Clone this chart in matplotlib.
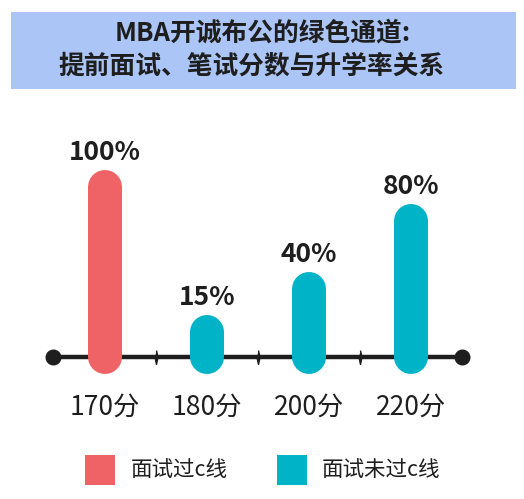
import matplotlib
matplotlib.use("Agg")
import matplotlib.pyplot as plt
from matplotlib.patches import Rectangle

plt.rcParams['font.family'] = ['Noto Sans CJK SC', 'DejaVu Sans']

# ---- data ----
categories = ["170分", "180分", "200分", "220分"]
values = [100, 15, 40, 80]
passed_c = [True, False, False, False]
value_labels = ["100%", "15%", "40%", "80%"]
title_lines = ["MBA开诚布公的绿色通道:", "提前面试、笔试分数与升学率关系"]
legend_labels = ["面试过c线", "面试未过c线"]

RED = "#EF6366"
TEAL = "#00B3C7"
BOX = "#ABC5F6"
DARK = "#1E1E1E"

W, H = 524, 499
fig = plt.figure(figsize=(W / 100, H / 100), dpi=100)
ax = fig.add_axes([0, 0, 1, 1])
ax.set_axis_off()

# pixel mapping: category spacing 102px, first at x=105; axis line at y=357 (from top)
step = 102.0
x0 = 105.0
ax.set_xlim((0 - x0) / step, (W - x0) / step)
k = 1.7  # px per percent
base = H - 357
ax.set_ylim(-base / k, (H - base) / k)

n = len(categories)
# baseline
ax.plot([-0.51, n - 0.5], [0, 0], color=DARK, lw=3.2, solid_capstyle='butt', zorder=1)
ax.plot([-0.51, n - 0.5], [0, 0], 'o', color=DARK, ms=10.5, zorder=3)
diamond = [(0, 1), (0.22, 0), (0, -1), (-0.22, 0)]
ax.plot([i + 0.5 for i in range(n - 1)], [0] * (n - 1), linestyle='none',
        marker=diamond, ms=10, color=DARK, zorder=3)

for i, (v, p) in enumerate(zip(values, passed_c)):
    c = RED if p else TEAL
    ax.plot([i, i], [0, v], color=c, lw=24.5, solid_capstyle='round', zorder=2)
    ax.annotate(value_labels[i], (i, v), xytext=(0, 34), textcoords='offset pixels',
                ha='center', va='center', fontsize=19, fontweight='bold', color=DARK)
    ax.annotate(categories[i], (i, 0), xytext=(0, -50), textcoords='offset pixels',
                ha='center', va='center', fontsize=19, color=DARK)

# title box
fig.patches.append(Rectangle((11 / W, 1 - 89 / H), (516 - 11) / W, (89 - 12) / H,
                             transform=fig.transFigure, facecolor=BOX, edgecolor='none'))
fig.text(263 / W, 1 - 33 / H, title_lines[0], ha='center', va='center',
         fontsize=18.5, fontweight='bold', color=DARK)
fig.text(252 / W, 1 - 66 / H, title_lines[1], ha='center', va='center',
         fontsize=18.5, fontweight='bold', color=DARK)

# legend
for (sx, tx), lab, c in zip([(85, 131), (277, 322)], legend_labels, [RED, TEAL]):
    fig.patches.append(Rectangle((sx / W, 1 - 485 / H), 30 / W, 30 / H,
                                 transform=fig.transFigure, facecolor=c, edgecolor='none'))
    fig.text(tx / W, 1 - 470 / H, lab, ha='left', va='center', fontsize=15.5, color=DARK)

fig.savefig("out.png", dpi=100)
